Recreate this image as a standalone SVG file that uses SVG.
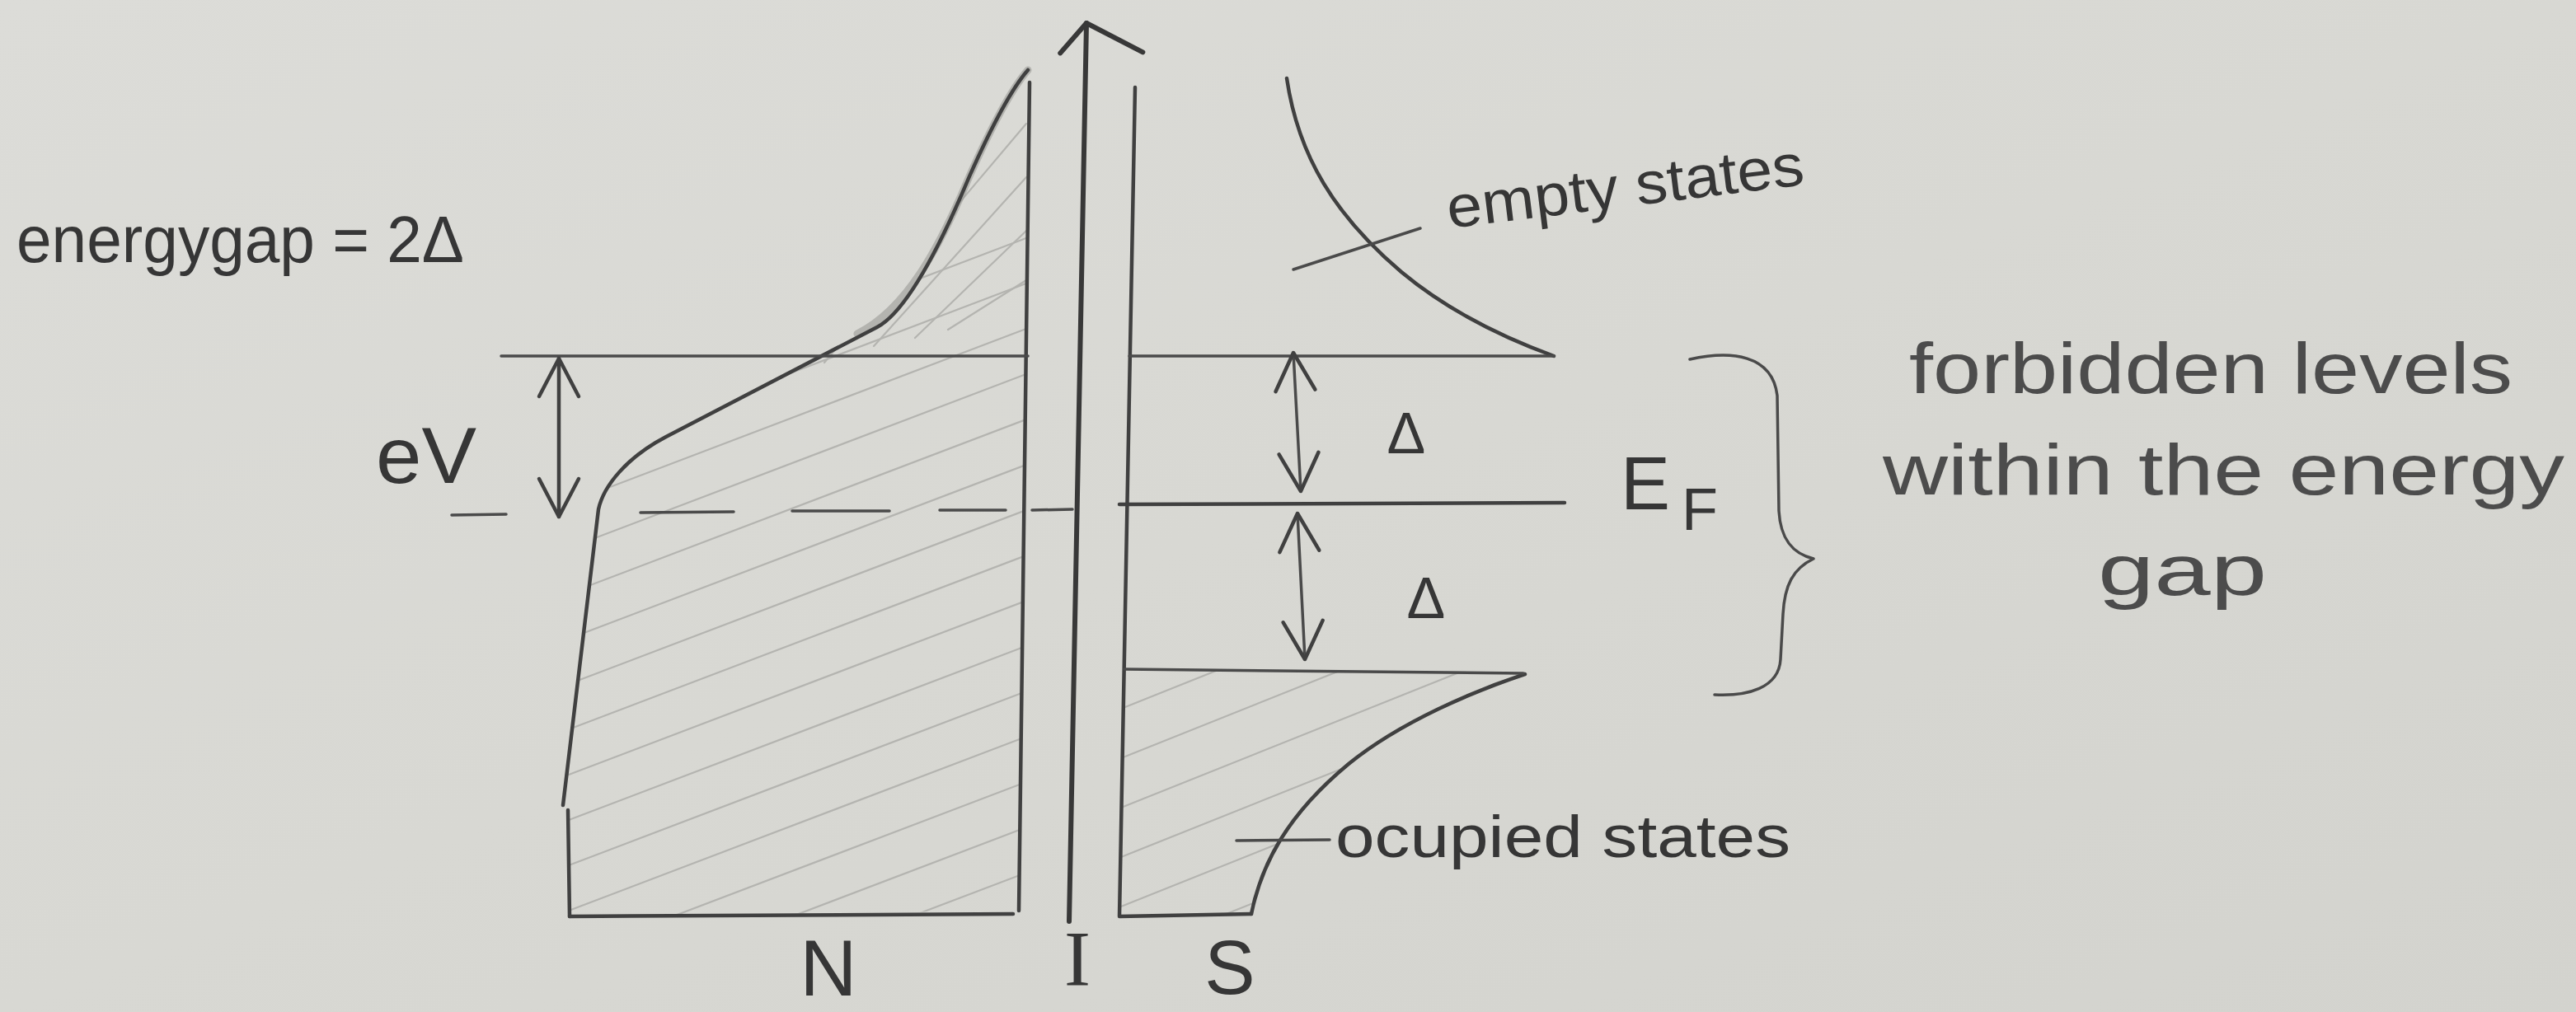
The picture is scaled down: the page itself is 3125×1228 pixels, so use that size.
<svg xmlns="http://www.w3.org/2000/svg" width="3125" height="1228" viewBox="0 0 3125 1228">
<defs>
<style>
.ink{fill:none;stroke:#404040;stroke-width:4.5;stroke-linecap:round;stroke-linejoin:round}
.thin{fill:none;stroke:#4a4a4a;stroke-width:3.5;stroke-linecap:round;stroke-linejoin:round}
.hatch{fill:none;stroke:#b4b4b0;stroke-width:2.2;stroke-linecap:round}
.soft{fill:none;stroke:#8e8e8a;stroke-width:9;stroke-linecap:round;opacity:0.5}
.txt{font-family:"Liberation Sans","DejaVu Sans",sans-serif;fill:#363636}
.lt{font-family:"Liberation Sans","DejaVu Sans",sans-serif;fill:#4c4c4c}
</style>
<linearGradient id="paper" x1="0" y1="0" x2="1" y2="1">
<stop offset="0" stop-color="#dcdcd8"/>
<stop offset="0.5" stop-color="#d8d8d3"/>
<stop offset="1" stop-color="#d3d3ce"/>
</linearGradient>
<marker id="v" markerUnits="userSpaceOnUse" orient="auto-start-reverse" overflow="visible" refX="0" refY="0" markerWidth="1" markerHeight="1">
<path d="M -46,-24 L 0,0 L -46,24" fill="none" stroke="#404040" stroke-width="4.5" stroke-linecap="round" stroke-linejoin="round"/>
</marker>
<marker id="axisHead" markerUnits="userSpaceOnUse" orient="auto" overflow="visible" refX="0" refY="0" markerWidth="1" markerHeight="1">
<path d="M -37,-31 L 0,0 L -34,69" fill="none" stroke="#383838" stroke-width="6" stroke-linecap="round" stroke-linejoin="round"/>
</marker>
<clipPath id="nClip">
<path d="M691,1112 L689,983 L683,977 L726,618 C732,590 760,555 808,530 L1064,397 C1100,378 1140,300 1176,214 C1200,160 1225,110 1247,85 L1249,100 L1236,1105 Z"/>
</clipPath>
<clipPath id="sClip">
<path d="M1362,812 L1848,818 C1790,838 1700,875 1636,927 C1560,990 1530,1050 1518,1109 L1358,1112 Z"/>
</clipPath>
</defs>

<rect x="0" y="0" width="3125" height="1228" fill="url(#paper)"/>

<g id="normal-metal">
<g clip-path="url(#nClip)">
<path class="hatch" d="M690,500 L1250,287 M690,555 L1250,342 M690,610 L1250,397 M690,665 L1250,452 M690,720 L1250,507 M690,775 L1250,562 M690,830 L1250,617 M690,885 L1250,672 M690,940 L1250,727 M690,995 L1250,782 M690,1050 L1250,837 M690,1105 L1250,892 M690,1160 L1250,947 M690,1215 L1250,1002 M690,1270 L1250,1057 M690,1325 L1250,1112"/>
<path class="hatch" d="M1000,440 L1245,150 M1060,420 L1245,215 M1110,410 L1245,280 M1150,400 L1245,340"/>
</g>
<path class="soft" d="M1040,405 C1100,375 1140,300 1176,214 C1200,160 1225,110 1247,85"/>
<path class="ink" d="M691,1112 L689,983 M683,977 L726,618 C732,590 760,555 808,530 L1064,397 C1100,378 1140,300 1176,214 C1200,160 1225,110 1247,85"/>
<path class="ink" d="M1249,100 L1236,1105 M691,1112 L1229,1109"/>
<path class="thin" d="M608,432 L1247,432"/>
<path class="thin" d="M548,625 L614,624 M777,622 L890,621 M961,620 L1079,620 M1140,619 L1220,619 M1252,619 L1301,618"/>
</g>

<g id="insulator">
<path d="M1297,1118 L1318,28" fill="none" stroke="#383838" stroke-width="6" stroke-linecap="round" marker-end="url(#axisHead)"/>
</g>

<g id="superconductor">
<g clip-path="url(#sClip)">
<path class="hatch" d="M1360,860 L1850,664 M1360,920 L1850,724 M1360,980 L1850,784 M1360,1040 L1850,844 M1360,1100 L1850,904 M1360,1160 L1850,964"/>
</g>
<path class="ink" d="M1377,106 L1358,1112 L1518,1109"/>
<path class="ink" d="M1518,1109 C1530,1050 1560,990 1636,927 C1700,875 1790,838 1850,818"/>
<path class="ink" d="M1561,95 C1575,190 1620,262 1700,330 C1760,380 1830,412 1885,432"/>
<path class="thin" d="M1370,432 L1885,432"/>
<path class="thin" d="M1364,812 L1848,817"/>
<path class="ink" d="M1358,612 L1898,610" stroke-width="5.5"/>
</g>

<g id="connectors">
<path class="ink" d="M678,627 L678,435" marker-start="url(#v)" marker-end="url(#v)"/>
<path class="thin" d="M1578,596 L1569,428" marker-start="url(#v)" marker-end="url(#v)"/>
<path class="thin" d="M1583,800 L1574,623" marker-start="url(#v)" marker-end="url(#v)"/>
<path class="thin" d="M1569,327 L1723,277"/>
<path class="thin" d="M1500,1020 L1613,1019"/>
<path class="thin" d="M2050,436 C2100,425 2150,430 2156,480 L2158,620 C2160,655 2175,672 2200,678 C2175,690 2165,710 2163,745 L2160,800 C2158,835 2120,845 2080,843"/>
</g>

<g id="labels">
<text class="txt" x="20" y="318" font-size="80" textLength="543" lengthAdjust="spacingAndGlyphs">energygap = 2Δ</text>
<text class="txt" x="456" y="586" font-size="96" textLength="122" lengthAdjust="spacingAndGlyphs">eV</text>
<text class="txt" x="1706" y="550" font-size="70" text-anchor="middle">Δ</text>
<text class="txt" x="1730" y="750" font-size="70" text-anchor="middle">Δ</text>
<text class="txt" x="1966" y="618" font-size="90">E</text>
<text class="txt" x="2040" y="643" font-size="72">F</text>
<text class="txt" x="1758" y="277" font-size="72" textLength="436" lengthAdjust="spacingAndGlyphs" transform="rotate(-7 1758 277)">empty states</text>
<text class="txt" x="1620" y="1040" font-size="72" textLength="552" lengthAdjust="spacingAndGlyphs">ocupied states</text>
<text class="lt" x="2316" y="477" font-size="88" textLength="732" lengthAdjust="spacingAndGlyphs">forbidden levels</text>
<text class="lt" x="2284" y="600" font-size="88" textLength="827" lengthAdjust="spacingAndGlyphs">within the energy</text>
<text class="lt" x="2545" y="722" font-size="88" textLength="205" lengthAdjust="spacingAndGlyphs">gap</text>
<text class="txt" x="1005" y="1208" font-size="96" text-anchor="middle">N</text>
<text class="txt" x="1307" y="1196" font-size="96" text-anchor="middle" style="font-family:'Liberation Serif',serif">I</text>
<text class="txt" x="1492" y="1206" font-size="92" text-anchor="middle">S</text>
</g>
</svg>
